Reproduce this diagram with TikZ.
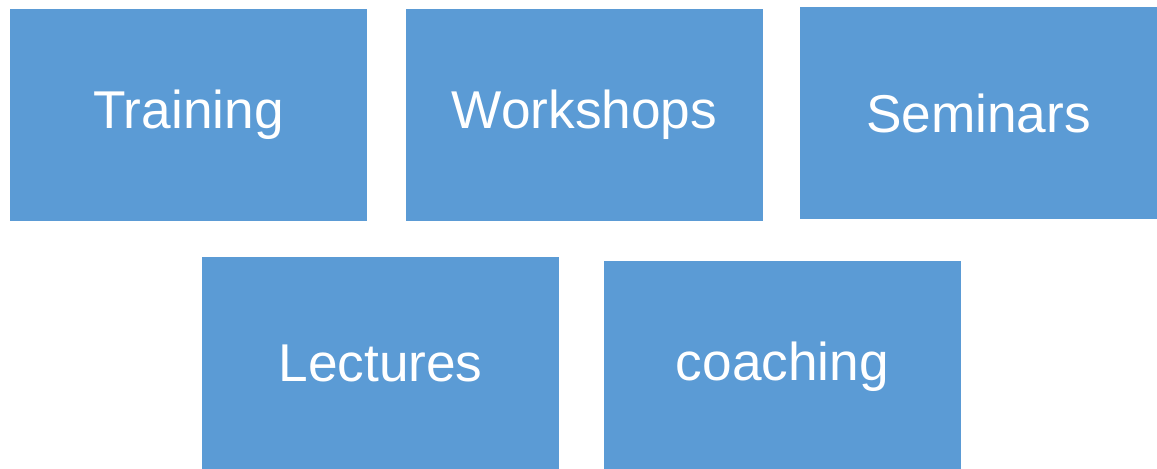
\documentclass[tikz,border=0pt]{standalone}
\usepackage{fontspec}
\setmainfont{Liberation Sans}
\usetikzlibrary{positioning}
\definecolor{boxblue}{HTML}{5B9BD5}

\begin{document}
\begin{tikzpicture}[x=0.02cm, y=-0.02cm,
    topic/.style={fill=boxblue, draw=none, text=white, font=\fontsize{30.3}{35}\selectfont,
        minimum width=7.14cm, minimum height=4.24cm, inner sep=0pt}]
\useasboundingbox (0,0) rectangle (1157,469);
\node[topic] (training) at (188.5,115) {Training};
\node[topic] (workshops) at (584.5,115) {Workshops};
\node[topic] (seminars) at (978.5,113) {Seminars};
\node[topic] (lectures) at (380.5,363) {Lectures};
\node[topic] (coaching) at (782.5,367) {coaching};

\end{tikzpicture}
\end{document}
